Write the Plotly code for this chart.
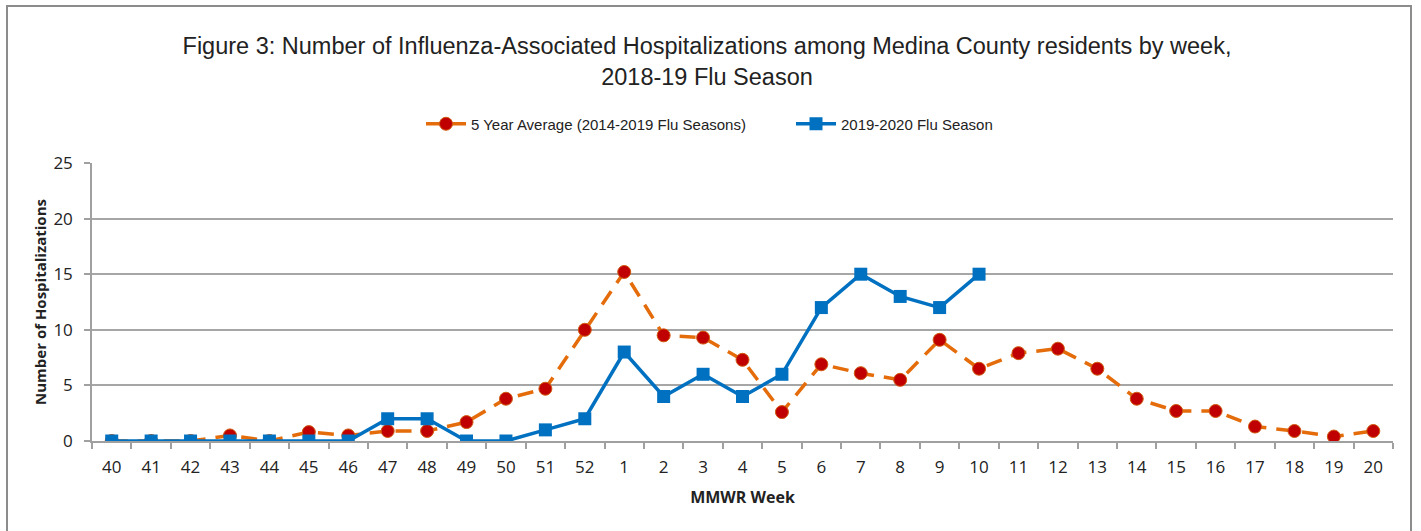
import plotly.graph_objects as go

weeks = ["40", "41", "42", "43", "44", "45", "46", "47", "48", "49", "50", "51", "52",
         "1", "2", "3", "4", "5", "6", "7", "8", "9", "10", "11", "12", "13", "14",
         "15", "16", "17", "18", "19", "20"]
avg_5yr = [0, 0, 0, 0.5, 0, 0.8, 0.5, 0.9, 0.9, 1.7, 3.8, 4.7, 10.0,
           15.2, 9.5, 9.3, 7.3, 2.6, 6.9, 6.1, 5.5, 9.1, 6.5, 7.9, 8.3, 6.5, 3.8,
           2.7, 2.7, 1.3, 0.9, 0.4, 0.9]
season_weeks = ["40", "41", "42", "43", "44", "45", "46", "47", "48", "49", "50", "51", "52",
                "1", "2", "3", "4", "5", "6", "7", "8", "9", "10"]
season_2019 = [0, 0, 0, 0, 0, 0, 0, 2, 2, 0, 0, 1, 2,
               8, 4, 6, 4, 6, 12, 15, 13, 12, 15]

W, H = 1421, 531
L, R, T, B = 92, 28, 163, 90
pw, ph = W - L - R, H - T - B

fig = go.Figure()
fig.add_trace(go.Scatter(
    x=weeks, y=avg_5yr, mode="lines+markers",
    name="5 Year Average (2014-2019 Flu Seasons)",
    line=dict(color="#E46C0A", width=3.5, dash="16px,10px"),
    marker=dict(symbol="circle", size=13, color="#C00000",
                line=dict(color="#D05A10", width=1)),
))
fig.add_trace(go.Scatter(
    x=season_weeks, y=season_2019, mode="lines+markers",
    name="2019-2020 Flu Season",
    line=dict(color="#0070C0", width=3.5),
    marker=dict(symbol="square", size=13, color="#0070C0"),
))

font_main = "Liberation Sans, Arial, sans-serif"
font_axis = "Open Sans, sans-serif"

fig.update_layout(
    width=W, height=H, autosize=False,
    margin=dict(l=L, r=R, t=T, b=B, pad=0),
    paper_bgcolor="white", plot_bgcolor="white",
    title=dict(
        text="Figure 3: Number of Influenza-Associated Hospitalizations among Medina County residents by week,<br>2018-19 Flu Season",
        x=707 / W, xanchor="center", xref="container",
        y=1 - 54 / H, yanchor="top", yref="container",
        font=dict(family=font_main, size=23.5, color="#222222"),
    ),
    legend=dict(
        orientation="h", x=(421 - L) / pw, xanchor="left",
        y=(H - B - 124) / ph, yanchor="middle",
        font=dict(family=font_main, size=15, color="#222222"),
        itemwidth=40, traceorder="normal", bgcolor="rgba(0,0,0,0)",
        entrywidth=315,
    ),
    showlegend=True,
    xaxis=dict(
        type="category", categoryorder="array", categoryarray=weeks,
        range=[-0.5, len(weeks) - 0.5], autorange=False,
        showline=True, linecolor="#A0A0A0", linewidth=1.5,
        ticks="outside", tickson="boundaries", ticklen=6, tickcolor="#A0A0A0",
        tickwidth=1.5,
        tickfont=dict(family=font_axis, size=17, color="#222222"),
        ticklabelstandoff=10,
        showgrid=False, zeroline=False,
        title=dict(text="<b>MMWR Week</b>", standoff=15,
                   font=dict(family=font_axis, size=16, color="#222222")),
    ),
    yaxis=dict(
        range=[0, 25], dtick=5, tick0=0, autorange=False,
        showline=True, linecolor="#A0A0A0", linewidth=1.5,
        ticks="outside", ticklen=6, tickcolor="#A0A0A0", tickwidth=1.5,
        tickfont=dict(family=font_axis, size=17, color="#222222"),
        ticklabelstandoff=8,
        showgrid=True, gridcolor="#A6A6A6", gridwidth=1.5, zeroline=False,
        title=dict(text="<b>Number of Hospitalizations</b>", standoff=3,
                   font=dict(family=font_axis, size=15, color="#222222")),
    ),
)

# outer chart border (top, left, right)
x0 = (7 - L) / pw
x1 = (1411 - L) / pw
ytop = (H - B - 6) / ph
ybot = (H - B - 540) / ph
fig.add_shape(type="path", xref="paper", yref="paper",
              path=f"M {x0} {ybot} L {x0} {ytop} L {x1} {ytop} L {x1} {ybot}",
              line=dict(color="#8C8C8C", width=2), layer="above")

fig.write_html("out.html", config={"displayModeBar": False},
               post_script="document.body.style.margin='0';document.body.style.padding='0';document.body.style.overflow='hidden';")
